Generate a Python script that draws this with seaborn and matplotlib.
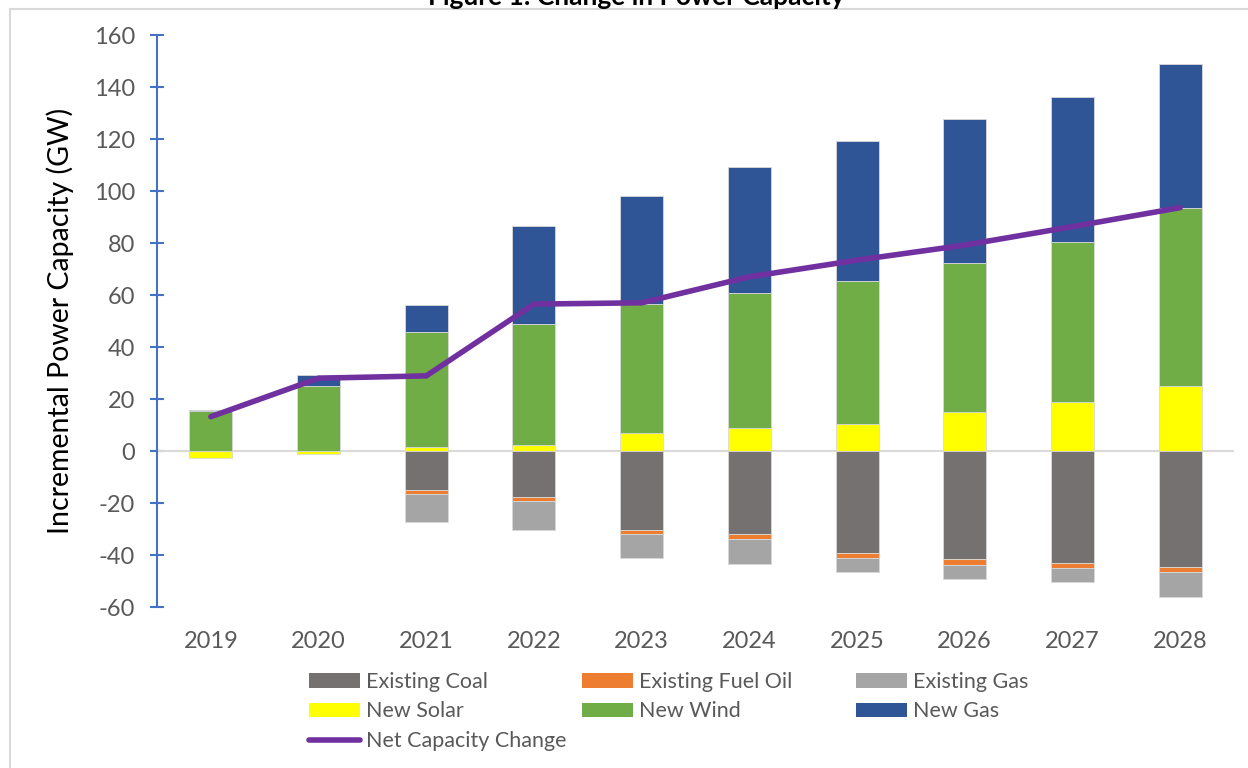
import matplotlib
matplotlib.use("Agg")
import matplotlib.pyplot as plt
import seaborn as sns
import numpy as np
import pandas as pd
from matplotlib.patches import Patch
from matplotlib.lines import Line2D

years = ["2019", "2020", "2021", "2022", "2023", "2024", "2025", "2026", "2027", "2028"]
existing_coal = [0, 0, -15.0, -17.7, -30.4, -32.0, -39.1, -41.7, -43.2, -44.7]
existing_fuel_oil = [0, 0, -1.4, -1.5, -1.6, -1.8, -1.9, -2.1, -1.8, -1.8]
existing_gas = [0, 0, -11.0, -11.2, -9.3, -9.5, -5.7, -5.6, -5.4, -9.5]
new_solar = [-2.8, -1.3, 1.4, 2.3, 6.8, 8.8, 10.4, 15.0, 18.8, 25.0]
new_wind = [15.5, 25.1, 44.4, 46.5, 49.9, 51.8, 55.0, 57.3, 61.6, 68.5]
new_gas = [0.3, 4.2, 10.4, 37.7, 41.3, 48.8, 53.8, 55.4, 55.8, 55.3]
net_change = [13.2, 28.0, 28.9, 56.5, 57.0, 67.0, 73.4, 79.2, 86.3, 93.6]

series = [
    ("Existing Coal", existing_coal, "#767171"),
    ("Existing Fuel Oil", existing_fuel_oil, "#ED7D31"),
    ("Existing Gas", existing_gas, "#A5A5A5"),
    ("New Solar", new_solar, "#FFFF00"),
    ("New Wind", new_wind, "#70AD47"),
    ("New Gas", new_gas, "#2F5597"),
]
net_color = "#7030A0"
text_grey = "#595959"
axis_blue = "#4472C4"

sns.set_theme(style="white")
plt.rcParams["font.family"] = ["Lato", "DejaVu Sans"]
plt.rcParams["axes.unicode_minus"] = False

fig = plt.figure(figsize=(12.48, 7.68), dpi=100)
ax = fig.add_axes([157 / 1248, 1 - 607 / 768, (1234 - 157) / 1248, (607 - 35) / 768])

x = np.arange(len(years))
pos_base = np.zeros(len(years))
neg_base = np.zeros(len(years))
# negative solar stacks first below zero, then coal, fuel oil, gas
order = [3, 0, 1, 2, 4, 5]
for idx in order:
    name, vals, col = series[idx]
    vals = np.array(vals, dtype=float)
    bottoms = np.where(vals >= 0, pos_base, neg_base)
    ax.bar(x, vals, width=0.4, bottom=bottoms, color=col,
           edgecolor="#d9d9d9", linewidth=0.6, zorder=2)
    pos_base = pos_base + np.where(vals > 0, vals, 0)
    neg_base = neg_base + np.where(vals < 0, vals, 0)

ax.axhline(0, color="#d9d9d9", lw=1.5, zorder=1)

df = pd.DataFrame({"x": x, "net": net_change})
sns.lineplot(data=df, x="x", y="net", ax=ax, color=net_color, lw=4,
             solid_capstyle="round", solid_joinstyle="miter", zorder=4)

ax.set_xlim(-0.5, len(years) - 0.5)
ax.set_ylim(-60, 160)
ax.set_yticks(np.arange(-60, 161, 20))
ax.set_xticks(x)
ax.set_xticklabels(years)
ax.set_xlabel("")
ax.set_ylabel("Incremental Power Capacity (GW)", fontsize=20.5, color="black", labelpad=14)

for s in ["top", "right", "bottom"]:
    ax.spines[s].set_visible(False)
ax.spines["left"].set_color(axis_blue)
ax.spines["left"].set_linewidth(1.5)
ax.tick_params(axis="y", direction="inout", length=10, width=1.5, color=axis_blue,
               labelcolor=text_grey, labelsize=17, pad=11, left=True)
ax.tick_params(axis="x", length=0, labelcolor=text_grey, labelsize=17, pad=17)
ax.grid(False)

# legend in three manually placed columns
def patch(i):
    return Patch(facecolor=series[i][2], edgecolor="none", label=series[i][0])

net_handle = Line2D([0], [0], color=net_color, lw=4, solid_capstyle="round",
                    label="Net Capacity Change")
cols = [
    ([patch(0), patch(3), net_handle], 309),
    ([patch(1), patch(4)], 582),
    ([patch(2), patch(5)], 856),
]
for handles, xpix in cols:
    leg = fig.legend(handles=handles, loc="upper left",
                     bbox_to_anchor=(xpix / 1248, 1 - 672 / 768),
                     frameon=False, fontsize=15.5, handlelength=2.35, handleheight=0.65,
                     handletextpad=0.3, labelspacing=0.44, borderaxespad=0, borderpad=0)
    for t in leg.get_texts():
        t.set_color(text_grey)

# title partially cut at top edge (as in the reference)
fig.text(0.51, 1 - 5 / 768, "Figure 1: Change in Power Capacity", ha="center",
         va="baseline", fontsize=19, fontweight="bold", color="black")

# chart area frame lines
fig.add_artist(Line2D([10 / 1248, 1], [1 - 9 / 768, 1 - 9 / 768], color="#d9d9d9", lw=1.5,
                      transform=fig.transFigure))
fig.add_artist(Line2D([10 / 1248, 10 / 1248], [0, 1 - 9 / 768], color="#d9d9d9", lw=1.5,
                      transform=fig.transFigure))

fig.savefig("out.png", dpi=100)
